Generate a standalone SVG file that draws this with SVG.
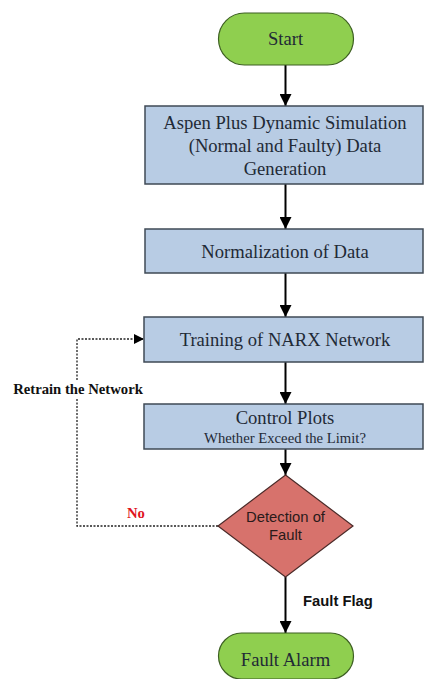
<svg xmlns="http://www.w3.org/2000/svg" width="424" height="679" viewBox="0 0 424 679">
  <style>
    .term { fill: #8fcf4f; stroke: #3d5f22; stroke-width: 1.2; }
    .proc { fill: #b8cce4; stroke: #3f4a55; stroke-width: 1.5; }
    .dec { fill: #d7726c; stroke: #4a2a28; stroke-width: 1.2; }
    .serif { font-family: "Liberation Serif", "Times New Roman", serif; fill: #1f2a36; text-anchor: middle; font-size: 18.6px; }
    .sans { font-family: "Liberation Sans", Arial, sans-serif; }
    .flow { stroke: #000; stroke-width: 2; fill: none; marker-end: url(#arrow); }
    .loop { stroke: #222; stroke-width: 1.3; fill: none; stroke-dasharray: 2 1.5; }
  </style>
  <defs>
    <marker id="arrow" markerWidth="12" markerHeight="12" viewBox="0 0 12 12" refX="12" refY="6" orient="auto" markerUnits="userSpaceOnUse">
      <path d="M0,0 L12,6 L0,12 Z" fill="#000"/>
    </marker>
    <marker id="arrowSmall" markerWidth="10" markerHeight="10" viewBox="0 0 10 10" refX="10" refY="5" orient="auto" markerUnits="userSpaceOnUse">
      <path d="M0,0 L10,5 L0,10 Z" fill="#000"/>
    </marker>
  </defs>

  <g id="connectors">
    <path class="flow" d="M285.5,65 V106"/>
    <path class="flow" d="M285.5,184 V229"/>
    <path class="flow" d="M285.5,273 V317"/>
    <path class="flow" d="M285.5,362 V404"/>
    <path class="flow" d="M285.5,449 V475"/>
    <path class="flow" d="M285.5,577 V633"/>
    <!-- dotted retrain loop, broken around its label -->
    <path class="loop" d="M218,526 H77 V398"/>
    <path class="loop" d="M77,380 V339 H144" marker-end="url(#arrowSmall)"/>
    <text x="78" y="394" class="serif" font-weight="bold" style="fill:#111; font-size:14.7px">Retrain the Network</text>
    <text x="136" y="518" class="serif" font-weight="bold" style="fill:#e0141e; font-size:14.7px">No</text>
    <text x="303" y="606" class="sans" font-size="14.8" font-weight="bold" fill="#111">Fault Flag</text>
  </g>

  <g id="start">
    <rect class="term" x="218.5" y="13" width="135" height="52" rx="26" ry="26"/>
    <text class="serif" x="285.5" y="45">Start</text>
  </g>

  <g id="simulation">
    <rect class="proc" x="145" y="106" width="278" height="78"/>
    <text class="serif" x="285" y="129">Aspen Plus Dynamic Simulation</text>
    <text class="serif" x="285" y="152">(Normal and Faulty) Data</text>
    <text class="serif" x="285" y="175">Generation</text>
  </g>

  <g id="normalization">
    <rect class="proc" x="145" y="229" width="278" height="44"/>
    <text class="serif" x="285" y="258">Normalization of Data</text>
  </g>

  <g id="training">
    <rect class="proc" x="144" y="317" width="279" height="45"/>
    <text class="serif" x="285" y="346">Training of NARX Network</text>
  </g>

  <g id="control-plots">
    <rect class="proc" x="144" y="404" width="279" height="45"/>
    <text class="serif" x="285" y="424">Control Plots</text>
    <text class="serif" x="285" y="443" style="font-size:14.7px">Whether Exceed the Limit?</text>
  </g>

  <g id="detection">
    <polygon class="dec" points="285.5,475 353,526 285.5,577 218,526"/>
    <text class="sans" x="285.5" y="522" font-size="14.8" text-anchor="middle" fill="#2a1a1a">Detection of</text>
    <text class="sans" x="285.5" y="540" font-size="14.8" text-anchor="middle" fill="#2a1a1a">Fault</text>
  </g>

  <g id="fault-alarm">
    <rect class="term" x="218.5" y="633" width="135" height="46" rx="23" ry="23"/>
    <text class="serif" x="285.5" y="666">Fault Alarm</text>
  </g>
</svg>
